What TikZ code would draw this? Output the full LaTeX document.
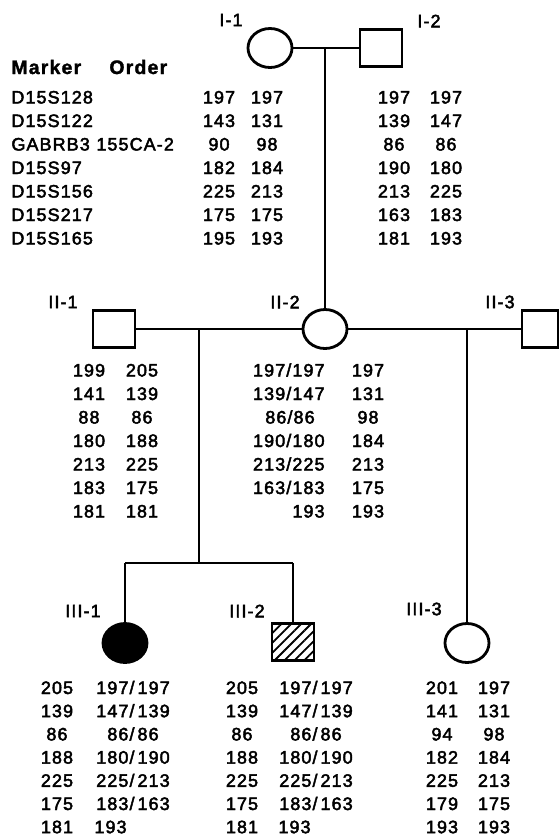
\documentclass[tikz,border=0pt]{standalone}
\usepackage{fontspec}
\setmainfont[LetterSpace=6, FakeBold=2.5, BoldFeatures={FakeBold=1.5}]{Liberation Sans}
\usetikzlibrary{shapes.geometric, patterns.meta}

\begin{document}
\begin{tikzpicture}[
        x=1pt, y=-1pt,
        line width=2.8pt,
        every node/.style={font=\fontsize{18}{20}\selectfont},
        female/.style={ellipse, draw, minimum width=44pt, minimum height=39pt, inner sep=0pt},
        male/.style={rectangle, draw, minimum width=42pt, minimum height=37pt, inner sep=0pt},
        affected/.style={fill=black},
        carrier/.style={pattern={Lines[angle=45, distance=7pt, line width=1.8pt]}},
        tag/.style={inner sep=0pt},
        num/.style={anchor=base, inner sep=0pt},
        marker/.style={anchor=base west, inner sep=0pt}
    ]
        \useasboundingbox (0,0) rectangle (560,836);

        % Generation I
        \node[female] (i1) at (270,48) {};
        \node[male] (i2) at (381,48) {};
        \node[tag] at (231,20) {I-1};
        \node[tag] at (429,21) {I-2};

        % Generation II
        \node[male] (ii1) at (114,329) {};
        \node[female] (ii2) at (325,329) {};
        \node[male, minimum width=36pt] (ii3) at (540,329) {};
        \node[tag] at (63,302) {II-1};
        \node[tag] at (285,302) {II-2};
        \node[tag] at (500,302) {II-3};

        % Generation III
        \node[female, affected] (iii1) at (125,643) {};
        \node[male, carrier] (iii2) at (293,642) {};
        \node[female] (iii3) at (467,643) {};
        \node[tag] at (83,611) {III-1};
        \node[tag] at (247,611) {III-2};
        \node[tag] at (424,609) {III-3};

        % Lines
        \coordinate (m1) at (325,48);
        \coordinate (m2) at (199,329);
        \coordinate (m3) at (467,329);
        \coordinate (sib) at (199,563);
        \coordinate (s1) at (125,563);
        \coordinate (s2) at (293,563);
        \draw (i1.east) -- (i2.west);
        \draw (m1) -- (ii2.north);
        \draw (ii1.east) -- (ii2.west);
        \draw (ii2.east) -- (ii3.west);
        \draw (m2) -- (sib);
        \draw (s1) -- (s2);
        \draw (s1) -- (iii1.north);
        \draw (s2) -- (iii2.north);
        \draw (m3) -- (iii3.north);

        % Marker order
        \node[marker, font=\fontsize{19.5}{21}\bfseries] at (10,74) {Marker};
        \node[marker, font=\fontsize{19.5}{21}\bfseries] at (108,74) {Order};
        \foreach \m [count=\i from 0] in {D15S128, D15S122, GABRB3, D15S97, D15S156, D15S217, D15S165}
            \node[marker] at (10,{103.5+23.5*\i}) {\m};
        \node[marker] at (95,150.5) {155CA-2};

        % Alleles, generation I
        \foreach \a/\b [count=\i from 0] in {197/197, 143/131, 90/98, 182/184, 225/213, 175/175, 195/193} {
            \node[num] at (219,{103.5+23.5*\i}) {\a};
            \node[num] at (267,{103.5+23.5*\i}) {\b};
        }
        \foreach \a/\b [count=\i from 0] in {197/197, 139/147, 86/86, 190/180, 213/225, 163/183, 181/193} {
            \node[num] at (394,{103.5+23.5*\i}) {\a};
            \node[num] at (446,{103.5+23.5*\i}) {\b};
        }

        % Alleles, generation II
        \foreach \a/\b [count=\i from 0] in {199/205, 141/139, 88/86, 180/188, 213/225, 183/175, 181/181} {
            \node[num] at (89,{376.5+23.5*\i}) {\a};
            \node[num] at (142,{376.5+23.5*\i}) {\b};
        }
        \foreach \a [count=\i from 0] in {197/197, 139/147, {}, 190/180, 213/225, 163/183, 193}
            \node[num, anchor=base east] at (326,{376.5+23.5*\i}) {\a};
        \node[num] at (290,423.5) {86/86};
        \foreach \b [count=\i from 0] in {197, 131, 98, 184, 213, 175, 193}
            \node[num] at (368,{376.5+23.5*\i}) {\b};

        % Alleles, generation III
        \foreach \a [count=\i from 0] in {205, 139, 86, 188, 225, 175, 181} {
            \node[num] at (57,{694+23.2*\i}) {\a};
            \node[num] at (242,{694+23.2*\i}) {\a};
        }
        \foreach \b [count=\i from 0] in {197/\,197, 147/\,139, 86/\,86, 180/\,190, 225/\,213, 183/\,163} {
            \node[num] at (133,{694+23.2*\i}) {\b};
            \node[num] at (316,{694+23.2*\i}) {\b};
        }
        \node[num, anchor=base west] at (93,833.2) {193};
        \node[num, anchor=base west] at (277,833.2) {193};
        \foreach \a/\b [count=\i from 0] in {201/197, 141/131, 94/98, 182/184, 225/213, 179/175, 193/193} {
            \node[num] at (442,{694+23.2*\i}) {\a};
            \node[num] at (494,{694+23.2*\i}) {\b};
        }
    \end{tikzpicture}
\end{document}
